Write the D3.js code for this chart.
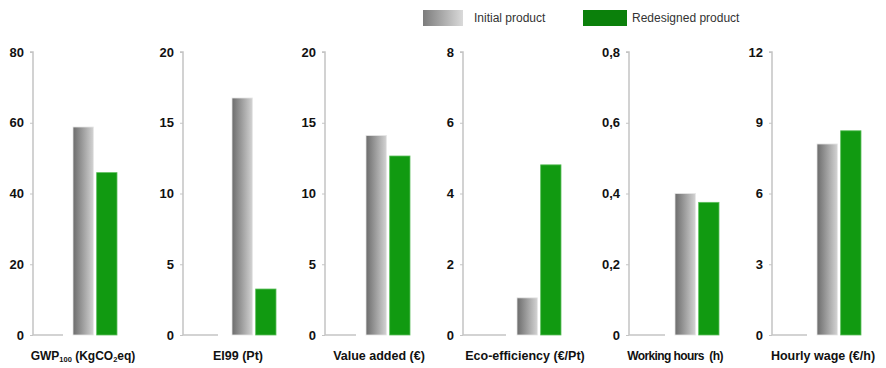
<!DOCTYPE html>
<html>
<head>
<meta charset="utf-8">
<script src="https://cdn.jsdelivr.net/npm/d3@7"></script>
<style>
  html, body { margin: 0; padding: 0; background: #fff; }
  svg { display: block; }
</style>
</head>
<body>
<svg id="chart" width="886" height="368"></svg>
<script>
// Indicators compared for the two product versions
const indicators = ["GWP100 (KgCO2eq)", "EI99 (Pt)", "Value added (€)", "Eco-efficiency (€/Pt)", "Working hours  (h)", "Hourly wage (€/h)"];
const series = ["Initial product", "Redesigned product"];
const initialValues = [58.8, 16.75, 14.1, 1.05, 0.40, 8.1];
const redesignedValues = [45.9, 3.25, 12.65, 4.81, 0.375, 8.66];
const axisMax = [80, 20, 20, 8, 0.8, 12];
const tickStep = [20, 5, 5, 2, 0.2, 3];

// Panel geometry
const axisX = [33, 183, 325, 463, 629, 772];
const barOffset = [40, 49, 41, 54, 46, 45];
const baseLen = [30, 35, 31, 43, 36, 35];
const labelX = [83, 238, 379, 525, 675, 823];
const labelSize = [12, 12.5, 12.5, 12.5, 12, 12.5];
const labelSpacing = [0, 0, 0, 0, -0.6, 0];
const yTop = 52, yBottom = 335;

const svg = d3.select("#chart");
const defs = svg.append("defs");

function grayGradient(id, from, to) {
  const g = defs.append("linearGradient").attr("id", id)
    .attr("x1", "0%").attr("x2", "100%").attr("y1", "0%").attr("y2", "0%");
  g.append("stop").attr("offset", "0%").attr("stop-color", from);
  g.append("stop").attr("offset", "100%").attr("stop-color", to);
}
grayGradient("barGray", "#6c6c6c", "#d2d2d2");
grayGradient("legendGray", "#7c7c7c", "#dadada");

const fills = ["url(#barGray)", "#119a11"];

const y = d3.scaleLinear().range([yBottom, yTop]);

indicators.forEach((name, i) => {
  const g = svg.append("g");
  const yi = y.copy().domain([0, axisMax[i]]);
  const ticks = d3.range(0, axisMax[i] + tickStep[i] / 2, tickStep[i]);
  const fmt = v => (Math.round(v * 10) / 10).toString().replace(".", ",");

  const axis = d3.axisLeft(yi).tickValues(ticks).tickFormat(fmt).tickSize(3).tickPadding(6);
  const ag = g.append("g").attr("transform", `translate(${axisX[i]},0)`).call(axis);
  ag.select(".domain").attr("stroke", "#c4c4c4").attr("stroke-width", 1.5)
    .attr("d", `M-3,${yTop}H0V${yBottom}`);
  ag.selectAll(".tick line").attr("stroke", "#c4c4c4").attr("stroke-width", 1);
  ag.selectAll(".tick text")
    .attr("fill", "#111")
    .style("font-family", "'Liberation Sans', Arial, sans-serif")
    .style("font-weight", "bold")
    .style("font-size", "13px");

  // zero line across the empty first slot
  g.append("line")
    .attr("x1", axisX[i]).attr("x2", axisX[i] + baseLen[i])
    .attr("y1", yi(0)).attr("y2", yi(0))
    .attr("stroke", "#c4c4c4").attr("stroke-width", 1.5);

  const x = d3.scaleBand().domain(series)
    .range([axisX[i] + barOffset[i], axisX[i] + barOffset[i] + 44])
    .paddingInner(0.14).paddingOuter(0);

  const vals = [initialValues[i], redesignedValues[i]];
  g.selectAll("rect.bar").data(series).join("rect")
    .attr("class", "bar")
    .attr("x", d => x(d))
    .attr("width", x.bandwidth())
    .attr("y", (d, k) => yi(vals[k]))
    .attr("height", (d, k) => yi(0) - yi(vals[k]))
    .attr("fill", (d, k) => fills[k])
    .attr("stroke", (d, k) => k === 0 ? "#e6e6e6" : "#5cbf5c")
    .attr("stroke-width", 0.8);

  // category label, with subscripts where needed
  const t = g.append("text")
    .attr("x", labelX[i]).attr("y", 360)
    .attr("text-anchor", "middle")
    .attr("fill", "#111")
    .style("font-family", "'Liberation Sans', Arial, sans-serif")
    .style("font-weight", "bold")
    .style("font-size", labelSize[i] + "px")
    .style("letter-spacing", labelSpacing[i] + "px")
    .style("white-space", "pre");
  if (i === 0) {
    t.append("tspan").text("GWP");
    t.append("tspan").text("100").style("font-size", "7.5px").attr("dy", 1.5);
    t.append("tspan").text(" (KgCO").attr("dy", -1.5);
    t.append("tspan").text("2").style("font-size", "7.5px").attr("dy", 1.5);
    t.append("tspan").text("eq)").attr("dy", -1.5);
  } else {
    t.text(name);
  }
});

// Legend
const legend = svg.append("g");
const legendItems = [
  { label: series[0], x: 423, w: 40, fill: "url(#legendGray)", tx: 474 },
  { label: series[1], x: 583, w: 44, fill: "#0b800b", tx: 632 }
];
legendItems.forEach(d => {
  legend.append("rect").attr("x", d.x).attr("y", 10).attr("width", d.w).attr("height", 16).attr("fill", d.fill);
  legend.append("text").attr("x", d.tx).attr("y", 22)
    .attr("fill", "#333")
    .style("font-family", "'Liberation Sans', Arial, sans-serif")
    .style("font-size", "12px")
    .text(d.label);
});
</script>
</body>
</html>
